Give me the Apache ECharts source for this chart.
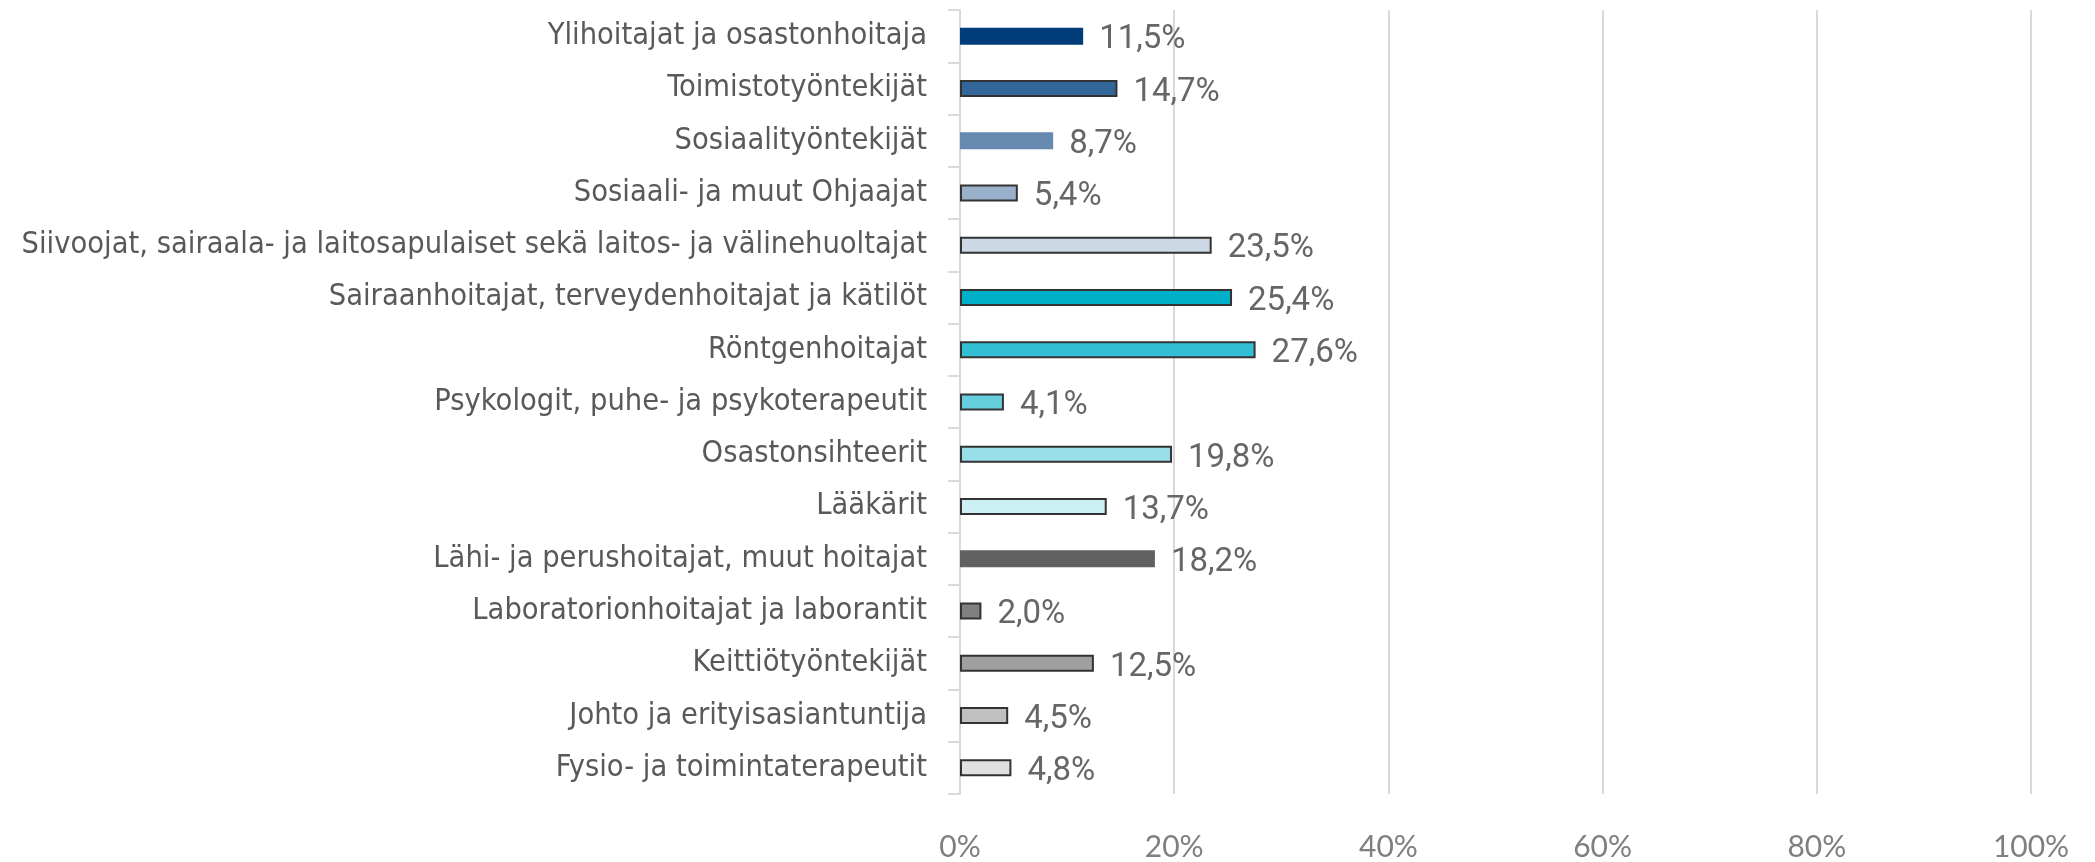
<!DOCTYPE html>
<html>
<head>
<meta charset="utf-8">
<script src="https://cdn.jsdelivr.net/npm/echarts@6/dist/echarts.min.js"></script>
<style>
  html, body { margin: 0; padding: 0; background: #fff; }
  #chart { width: 2095px; height: 862px; }
</style>
</head>
<body>
<div id="chart"></div>
<script>
// categories, top to bottom
var categories = [
    'Ylihoitajat ja osastonhoitaja',
    'Toimistotyöntekijät',
    'Sosiaalityöntekijät',
    'Sosiaali- ja muut Ohjaajat',
    'Siivoojat, sairaala- ja laitosapulaiset sekä laitos- ja välinehuoltajat',
    'Sairaanhoitajat, terveydenhoitajat ja kätilöt',
    'Röntgenhoitajat',
    'Psykologit, puhe- ja psykoterapeutit',
    'Osastonsihteerit',
    'Lääkärit',
    'Lähi- ja perushoitajat, muut hoitajat',
    'Laboratorionhoitajat ja laborantit',
    'Keittiötyöntekijät',
    'Johto ja erityisasiantuntija',
    'Fysio- ja toimintaterapeutit'
];
var values = [11.5, 14.7, 8.7, 5.4, 23.5, 25.4, 27.6, 4.1, 19.8, 13.7, 18.2, 2.0, 12.5, 4.5, 4.8];
var barColors = [
    '#003b7a', '#336699', '#6689b0', '#99b0ca', '#ccd8e4',
    '#00b0c8', '#33bfd3', '#66cfde', '#99dfe9', '#ccf0f4',
    '#606060', '#808080', '#a0a0a0', '#c0c0c0', '#e0e0e0'
];
var bordered = [false, true, false, true, true, true, true, true, true, true, false, true, true, true, true];
var xTicks = [0, 20, 40, 60, 80, 100];

var myChart = echarts.init(document.getElementById('chart'));

var barData = [];
for (let i = 0; i < values.length; i++) {
    barData.push({
        value: values[i],
        itemStyle: {
            color: barColors[i],
            borderColor: bordered[i] ? '#333333' : barColors[i],
            borderWidth: bordered[i] ? 2 : 0
        }
    });
}

var option = {
    backgroundColor: '#ffffff',
    animation: false,
    grid: { left: 960, right: 64, top: 10, bottom: 62, containLabel: false },
    xAxis: {
        type: 'value',
        min: xTicks[0],
        max: xTicks[xTicks.length - 1],
        interval: 20,
        axisLine: { show: false },
        axisTick: { show: false },
        splitLine: { show: true, lineStyle: { color: '#d9d9d9', width: 2 } },
        axisLabel: {
            margin: 38,
            color: '#7f7f7f',
            fontFamily: 'Lato',
            fontSize: 30,
            formatter: function (v) { return v + '%'; }
        }
    },
    yAxis: {
        type: 'category',
        inverse: true,
        data: categories,
        axisLine: { show: true, lineStyle: { color: '#d9d9d9', width: 2 } },
        axisTick: { show: true, length: 12, lineStyle: { color: '#d9d9d9', width: 2 } },
        axisLabel: {
            margin: 33,
            padding: [4, 0, 0, 0],
            color: '#595959',
            fontFamily: '"Liberation Sans Narrow", "DejaVu Sans Condensed", sans-serif',
            fontSize: 30.5
        }
    },
    series: [{
        type: 'bar',
        data: barData,
        barWidth: 17,
        label: {
            show: true,
            position: 'right',
            distance: 16,
            offset: [0, 4],
            color: '#666666',
            fontFamily: 'Roboto',
            fontSize: 33,
            formatter: function (p) { return p.value.toFixed(1).replace('.', ',') + '%'; }
        }
    }]
};

myChart.setOption(option);
</script>
</body>
</html>
